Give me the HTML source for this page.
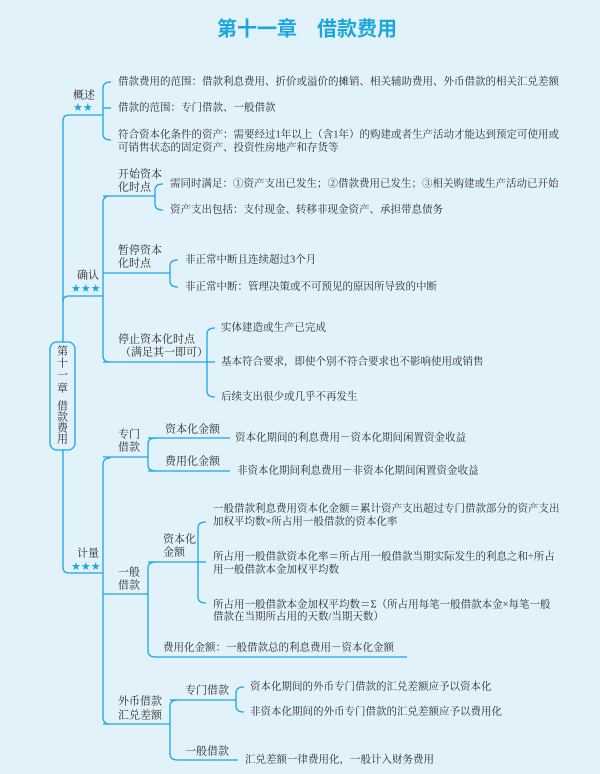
<!DOCTYPE html>
<html><head><meta charset="utf-8"><style>
html,body{margin:0;padding:0;background:#e1f2fb;}
svg{display:block;}
text{font-family:"Liberation Serif","Noto Serif CJK SC","Noto Sans CJK SC",serif;fill:#2b2b2b;font-size:10.5px;dominant-baseline:middle;}
.t{font-family:"Liberation Sans","Noto Sans CJK SC",sans-serif;fill:#1ca6df;font-size:20px;font-weight:bold;}
.s{fill:#1ca6df;font-size:11px;font-family:"DejaVu Sans",sans-serif;}
.l{font-size:11px;}
</style></head><body>
<svg width="600" height="774" viewBox="0 0 600 774" xmlns="http://www.w3.org/2000/svg">
<rect width="600" height="774" fill="#e1f2fb"/>
<text class="t" x="307" y="30" text-anchor="middle">第十一章　借款费用</text>
<g fill="none" stroke="#1ca6df" stroke-width="1.3">
<!-- main -->
<path d="M103 115 L69 115 Q63 115 63 121 L63 342"/>
<path d="M63 302 Q63 296 69 296 L103 296"/>
<path d="M63 450 L63 567 Q63 573 69 573 L103 573"/>
<rect x="50" y="342" width="25" height="108" rx="7"/>
<!-- 概述 bracket -->
<path d="M111 82 Q103 82 103 88 L103 134 Q103 140 111 140"/>
<path d="M103 108 L111 108"/>
<!-- 确认 -->
<path d="M110 196 Q103 196 103 203 L103 355 Q103 362 110 362"/>
<path d="M103 196 L155 196"/><path d="M103 273 L170 273"/><path d="M103 362 L207 362"/>
<path d="M163 184 Q155 184 155 190 L155 204 Q155 210 163 210"/>
<path d="M178 260 Q170 260 170 266 L170 281 Q170 287 178 287"/>
<path d="M215 328 Q207 328 207 334 L207 391 Q207 397 215 397"/>
<path d="M207 362 L215 362"/>
<!-- 计量 -->
<path d="M110 458 Q103 458 103 465 L103 717 Q103 724 110 724"/>
<path d="M103 457 L148 457"/><path d="M103 594 L148 594"/><path d="M103 724 L170 724"/>
<path d="M156 438 Q148 438 148 444 L148 465 Q148 471 156 471"/>
<path d="M148 438 L230 438"/><path d="M148 471 L230 471"/>
<path d="M156 562 Q148 562 148 568 L148 651 Q148 657 156 657 L407 657"/>
<path d="M148 562 L198 562"/>
<path d="M206 522 Q198 522 198 528 L198 597 Q198 603 206 603"/>
<path d="M198 562 L206 562"/>
<path d="M178 700 Q170 700 170 706 L170 754 Q170 760 178 760 L238 760"/>
<path d="M170 700 L236 700"/>
<path d="M244 687 Q236 687 236 693 L236 706 Q236 712 244 712"/>
</g>
<text x="118" y="82">借款费用的范围：借款利息费用、折价或溢价的摊销、相关辅助费用、外币借款的相关汇兑差额</text>
<text x="118" y="108">借款的范围：专门借款、一般借款</text>
<text x="118" y="135">符合资本化条件的资产：需要经过1年以上（含1年）的购建或者生产活动才能达到预定可使用或</text>
<text x="118" y="148">可销售状态的固定资产、投资性房地产和存货等</text>
<text class="l" x="73" y="96">概述</text><text class="s" x="73" y="108">★★</text>
<text class="l" x="77" y="276">确认</text><text class="s" x="71" y="289">★★★</text>
<text class="l" x="77" y="554">计量</text><text class="s" x="71" y="567">★★★</text>
<g class="l">
<text class="l" x="57" y="352">第</text><text class="l" x="57" y="364">十</text><text class="l" x="57" y="376">一</text><text class="l" x="57" y="389">章</text>
<text class="l" x="57" y="407">借</text><text class="l" x="57" y="418">款</text><text class="l" x="57" y="429">费</text><text class="l" x="57" y="440">用</text>
</g>
<text class="l" x="118" y="175">开始资本</text><text class="l" x="118" y="188">化时点</text>
<text x="170" y="184">需同时满足：①资产支出已发生；②借款费用已发生；③相关购建或生产活动已开始</text>
<text x="170" y="210">资产支出包括：支付现金、转移非现金资产、承担带息债务</text>
<text class="l" x="118" y="251">暂停资本</text><text class="l" x="118" y="264">化时点</text>
<text x="185" y="260">非正常中断且连续超过3个月</text>
<text x="185" y="287">非正常中断：管理决策或不可预见的原因所导致的中断</text>
<text class="l" x="118" y="340">停止资本化时点</text><text class="l" x="120" y="353">（满足其一即可）</text>
<text x="221" y="328">实体建造或生产已完成</text>
<text x="221" y="362">基本符合要求，即使个别不符合要求也不影响使用或销售</text>
<text x="221" y="397">后续支出很少或几乎不再发生</text>
<text class="l" x="118" y="435">专门</text><text class="l" x="118" y="448">借款</text>
<text class="l" x="165" y="430">资本化金额</text>
<text x="235" y="438">资本化期间的利息费用－资本化期间闲置资金收益</text>
<text class="l" x="165" y="462">费用化金额</text>
<text x="237" y="471">非资本化期间利息费用－非资本化期间闲置资金收益</text>
<text class="l" x="118" y="573">一般</text><text class="l" x="118" y="586">借款</text>
<text class="l" x="163" y="540">资本化</text><text class="l" x="163" y="553">金额</text>
<text x="213" y="509">一般借款利息费用资本化金额＝累计资产支出超过专门借款部分的资产支出</text>
<text x="213" y="522">加权平均数×所占用一般借款的资本化率</text>
<text x="213" y="557">所占用一般借款资本化率＝所占用一般借款当期实际发生的利息之和÷所占</text>
<text x="213" y="570">用一般借款本金加权平均数</text>
<text x="213" y="605">所占用一般借款本金加权平均数＝Σ（所占用每笔一般借款本金×每笔一般</text>
<text x="213" y="617">借款在当期所占用的天数/当期天数）</text>
<text x="163" y="648">费用化金额：一般借款总的利息费用－资本化金额</text>
<text class="l" x="118" y="702">外币借款</text><text class="l" x="118" y="716">汇兑差额</text>
<text class="l" x="185" y="691">专门借款</text>
<text x="250" y="687">资本化期间的外币专门借款的汇兑差额应予以资本化</text>
<text x="250" y="712">非资本化期间的外币专门借款的汇兑差额应予以费用化</text>
<text class="l" x="185" y="752">一般借款</text>
<text x="245" y="760">汇兑差额一律费用化，一般计入财务费用</text>
</svg>
</body></html>
